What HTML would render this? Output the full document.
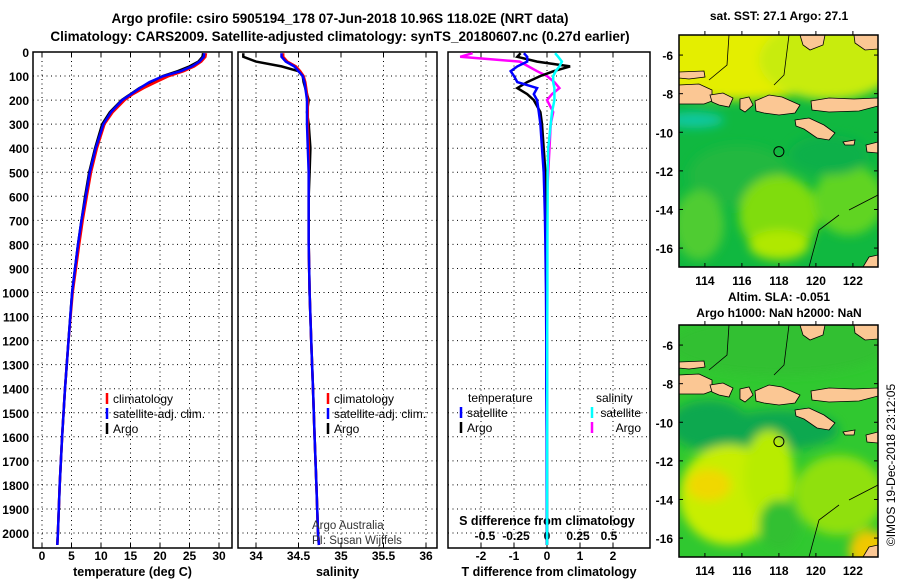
<!DOCTYPE html>
<html><head><meta charset="utf-8"><style>
body{margin:0;background:#fff}
svg{display:block;font-family:"Liberation Sans",sans-serif;font-weight:bold}
</style></head><body>
<svg id="c" width="900" height="580" viewBox="0 0 900 580">
<defs><filter id="bl" x="-10%" y="-10%" width="120%" height="120%"><feGaussianBlur stdDeviation="5"/></filter>
<clipPath id="mc"><rect x="0" y="0" width="199" height="232"/></clipPath></defs>
<text x="340" y="23" font-size="13.5" text-anchor="middle">Argo profile: csiro 5905194_178 07-Jun-2018 10.96S 118.02E (NRT data)</text>
<text x="340" y="41" font-size="13.5" text-anchor="middle">Climatology: CARS2009. Satellite-adjusted climatology: synTS_20180607.nc (0.27d earlier)</text>
<g id="panels"></g>
<g id="maps"></g>
<text transform="translate(895,465) rotate(-90)" font-size="12" font-weight="normal" text-anchor="middle">©IMOS 19-Dec-2018 23:12:05</text>
</svg>
<script>
const depths=[5,20,40,60,80,100,125,150,175,200,250,300,400,500,600,700,800,1000,1200,1400,1600,1800,2000,2050];
const tempClim=[27.8,27.7,27.0,25.8,24.0,21.5,19.3,17.2,15.4,14.0,12.0,10.6,9.3,8.3,7.6,6.9,6.3,5.2,4.5,3.9,3.4,3.0,2.7,2.6];
const tempSat=[27.5,27.4,26.7,25.4,23.5,20.6,18.2,16.6,15.1,13.6,11.7,10.4,9.1,8.1,7.4,6.7,6.1,5.1,4.5,3.9,3.4,3.0,2.7,2.6];
const tempArgo=[27.3,27.2,26.5,25.0,23.0,20.5,18.5,16.5,15.0,13.5,11.5,10.2,9.0,8.0,7.3,6.7,6.1,5.1,4.5,3.9,3.4,3.0,2.7,2.6];
const salClim=[34.32,34.32,34.37,34.47,34.52,34.56,34.58,34.59,34.6,34.61,34.61,34.61,34.62,34.62,34.62,34.62,34.62,34.63,34.65,34.67,34.69,34.71,34.73,34.74];
const salSat=[34.3,34.3,34.35,34.45,34.5,34.55,34.57,34.58,34.59,34.6,34.6,34.6,34.61,34.62,34.62,34.62,34.62,34.63,34.65,34.67,34.69,34.71,34.73,34.74];
const salArgo=[33.85,33.85,34.0,34.3,34.5,34.55,34.56,34.58,34.6,34.62,34.6,34.62,34.64,34.63,34.62,34.62,34.62,34.63,34.65,34.67,34.69,34.71,34.73,34.74];
const tDiffSat=[-0.7,-0.6,-0.6,-0.9,-1.1,-1.0,-0.9,-0.3,-0.4,-0.3,-0.25,-0.2,-0.15,-0.1,-0.08,-0.06,-0.05,-0.03,-0.02,-0.02,-0.01,-0.01,0,0];
const tDiffArgo=[-0.8,-0.9,-0.3,0.7,0.2,-0.2,-0.6,-0.9,-0.6,-0.4,-0.2,-0.15,-0.1,-0.05,-0.04,-0.03,-0.02,-0.01,0,0,0,0,0,0];
const sDiffSat=[0.065,0.09,0.12,0.1,0.07,0.05,0.05,0.06,0.06,0.06,0.04,0.03,0.01,0.005,0.005,0.004,0.003,0.003,0.002,0.002,0.002,0.001,0.001,0.001];
const sDiffArgo=[-0.6,-0.7,-0.22,-0.15,-0.08,0,0.06,0.1,0.04,0,0.05,0.03,0.02,0.01,0,0,0,0,0,0,0,0,0,0];
const depthTicks=[0,100,200,300,400,500,600,700,800,900,1000,1100,1200,1300,1400,1500,1600,1700,1800,1900,2000];
const tempTicks=[0,5,10,15,20,25,30];
const salTicks=[34,34.5,35,35.5,36];
const tdTicks=[-2,-1,0,1,2];
const sdTicks=[-0.5,-0.25,0,0.25,0.5];
const mapLats=[-6,-8,-10,-12,-14,-16];
const mapLons=[114,116,118,120,122];

const NS='http://www.w3.org/2000/svg';
function mk(p,t,a,txt){const e=document.createElementNS(NS,t);for(const k in a)e.setAttribute(k,a[k]);if(txt!==undefined)e.textContent=txt;p.appendChild(e);return e;}
const yD=d=>52+d*0.2405;
const Y0=52,Y1=548;
const P=document.getElementById('panels');
function panel(name,x0,x1,sx,ticks,fmt,label){
  const g=mk(P,'g',{});
  
  
  depthTicks.slice(1).forEach(d=>{mk(g,'line',{x1:x0,x2:x1,y1:yD(d),y2:yD(d),stroke:'#000','stroke-dasharray':'1 3.5'});});
  ticks.forEach(t=>{mk(g,'line',{x1:sx(t),x2:sx(t),y1:Y0,y2:Y1,stroke:'#000','stroke-dasharray':'1 3.5'});
    mk(g,'line',{x1:sx(t),x2:sx(t),y1:Y1,y2:Y1-5,stroke:'#000'});mk(g,'line',{x1:sx(t),x2:sx(t),y1:Y0,y2:Y0+5,stroke:'#000'});
    if(fmt){const tl=mk(g,'text',{x:sx(t),y:560,'font-size':12,'text-anchor':'middle'},fmt(t));
    
    }});
  mk(g,'rect',{x:x0,y:Y0,width:x1-x0,height:Y1-Y0,fill:'none',stroke:'#000','stroke-width':1.5});
  if(label){const l=mk(g,'text',{x:(x0+x1)/2,y:576,'font-size':12.5,'text-anchor':'middle'},label);
  
  }
  return g;
}
function line(g,vals,sx,col,name){
  let d='';vals.forEach((v,i)=>{d+=(i?'L':'M')+sx(v).toFixed(1)+' '+yD(depths[i]).toFixed(1);});
  const p=mk(g,'path',{d:d,fill:'none',stroke:col,'stroke-width':2.5});
  
  
}
function legend(g,x,y,items){items.forEach((it,i)=>{
  const e=mk(g,'g',{});
  
  
  mk(e,'line',{x1:it[2]||x,x2:it[2]||x,y1:y+i*15-10,y2:y+i*15+1,stroke:it[0],'stroke-width':2.5});
  mk(e,'text',{x:(it[2]||x)+6,y:y+i*15,'font-size':12,'font-weight':'normal'},it[1]);});}

depthTicks.forEach(d=>{const t=mk(P,'text',{x:29,y:yD(d)+5,'font-size':12,'text-anchor':'end'},d);

});

const sT=v=>42+v*5.9;
const gT=panel('temperature-panel',33,232,sT,tempTicks,t=>t,'temperature (deg C)');
line(gT,tempArgo,sT,'#000','temp-argo-line');line(gT,tempClim,sT,'#f00','temp-clim-line');line(gT,tempSat,sT,'#00f','temp-sat-line');
legend(gT,107,403,[['#f00','climatology'],['#00f','satellite-adj. clim.'],['#000','Argo']]);

const sS=v=>256+(v-34)*85;
const gS=panel('salinity-panel',238,437,sS,salTicks,t=>t,'salinity');
line(gS,salArgo,sS,'#000','sal-argo-line');line(gS,salClim,sS,'#f00','sal-clim-line');line(gS,salSat,sS,'#00f','sal-sat-line');
legend(gS,328,403,[['#f00','climatology'],['#00f','satellite-adj. clim.'],['#000','Argo']]);
mk(gS,'text',{x:312,y:529,'font-size':11.5,'font-weight':'normal',fill:'#333'},'Argo Australia');
mk(gS,'text',{x:312,y:544,'font-size':11.5,'font-weight':'normal',fill:'#333'},'PI: Susan Wijffels');

const sD=v=>547+v*33;const sSd=v=>547+v*124;
const gD=panel('difference-panel',448,650,sD,tdTicks,t=>t,'T difference from climatology');
sdTicks.forEach(t=>{const l=mk(gD,'text',{x:sSd(t),y:540,'font-size':12,'text-anchor':'middle'},t);

});
mk(gD,'text',{x:547,y:525,'font-size':12.5,'text-anchor':'middle'},'S difference from climatology');
line(gD,sDiffArgo,sSd,'#f0f','s-diff-argo-line');line(gD,tDiffArgo,sD,'#000','t-diff-argo-line');
line(gD,tDiffSat,sD,'#00f','t-diff-sat-line');line(gD,sDiffSat,sSd,'#0ff','s-diff-sat-line');
mk(gD,'text',{x:468,y:402,'font-size':12,'font-weight':'normal'},'temperature');
mk(gD,'text',{x:596,y:402,'font-size':12,'font-weight':'normal'},'salinity');
legend(gD,461,417,[['#00f','satellite'],['#000','Argo']]);
[['#0ff','satellite'],['#f0f','Argo']].forEach((it,i)=>{const y=417+i*15;
  const e=mk(gD,'g',{});
  
  
  mk(e,'line',{x1:592,x2:592,y1:y-10,y2:y+1,stroke:it[0],'stroke-width':2.5});
  mk(e,'text',{x:641,y:y,'font-size':12,'font-weight':'normal','text-anchor':'end'},it[1]);});

const M=document.getElementById('maps');
const land=[
 'M0,37 L25,36 L26,42 L10,44 L0,43Z',
 'M0,50 L20,49 L33,55 L33,66 L25,69 L0,69Z',
 'M31,60 L44,58 L54,63 L50,72 L40,70 L33,67Z',
 'M61,64 L70,62 L74,70 L66,77 L61,74Z',
 'M76,66 L90,60 L103,62 L112,66 L121,70 L116,78 L100,80 L85,78 L77,76Z',
 'M132,66 L150,63 L175,64 L199,63 L199,71 L180,76 L150,77 L133,75Z',
 'M116,85 L130,83 L145,90 L156,98 L150,105 L138,103 L125,94 L117,91Z',
 'M121,0 L146,0 L144,10 L131,15 L124,10Z',
 'M175,0 L199,0 L199,14 L186,15 L176,8Z',
 'M164,107 L176,105 L175,110 L166,110Z',
 'M187,110 L199,107 L199,118 L188,117Z',
 'M184,232 L190,222 L199,220 L199,232Z'];
function map(name,oy,blobs,title,tOff){
  const g=mk(M,'g',{transform:'translate(679,'+oy+')'});
  
  
  const c=mk(g,'g',{'clip-path':'url(#mc)'});
  mk(c,'rect',{x:0,y:0,width:199,height:232,fill:blobs[0]});
  const b=mk(c,'g',{filter:'url(#bl)'});
  blobs.slice(1).forEach(e=>mk(b,'ellipse',{cx:e[0],cy:e[1],rx:e[2],ry:e[3],fill:e[4]}));
  land.forEach(d=>mk(c,'path',{d:d,fill:'#fbc794',stroke:'#000','stroke-width':0.8}));
  mk(c,'path',{d:'M110,0 L105,40 L95,50 M50,0 L48,30 L30,45 M160,180 L140,195 L130,232 M199,160 L170,175',fill:'none',stroke:'#000','stroke-width':0.8});
  const mk1=mk(g,'circle',{cx:(118-112.6)*18.5,cy:(11-4.96)*19.3,r:5,fill:'none',stroke:'#000'});
  
  
  mk(g,'rect',{x:0,y:0,width:199,height:232,fill:'none',stroke:'#000','stroke-width':1.5});
  mapLats.forEach(l=>{const y=(-4.96-l)*19.3;mk(g,'line',{x1:0,x2:4,y1:y,y2:y,stroke:'#000'});mk(g,'line',{x1:195,x2:199,y1:y,y2:y,stroke:'#000'});
    mk(g,'text',{x:-6,y:y+5,'font-size':12,'text-anchor':'end'},l);});
  mapLons.forEach(l=>{const x=(l-112.6)*18.5;mk(g,'line',{x1:x,x2:x,y1:232,y2:228,stroke:'#000'});mk(g,'line',{x1:x,x2:x,y1:0,y2:-4,stroke:'#000'});
    mk(g,'text',{x:x,y:250,'font-size':12,'text-anchor':'middle'},l);});
  title.forEach((t,i)=>mk(g,'text',{x:100,y:-12-(title.length-1-i)*16+tOff,'font-size':12,'text-anchor':'middle'},t));
}
map('sst-map',35,['#10b840',[60,20,120,45,'#e4ee00'],[150,25,70,40,'#c8ec10'],[15,85,30,8,'#10c8a0'],[60,140,50,30,'#20b840'],[100,180,40,40,'#80dc10'],[100,210,30,15,'#b0e800'],[20,190,25,35,'#50cc30'],[170,165,35,35,'#60d420'],[150,120,40,20,'#10b048']],['sat. SST: 27.1  Argo: 27.1'],-3);
map('sla-map',325,['#30c830',[100,20,110,30,'#30c030'],[30,100,40,25,'#10a850'],[100,105,60,20,'#10a850'],[50,170,50,50,'#c8ee00'],[30,160,22,16,'#f0d800'],[90,150,25,45,'#b8ec00'],[100,200,20,25,'#30c030'],[160,170,45,40,'#90e010'],[190,225,20,20,'#f0c800']],['Altim. SLA: -0.051','Argo h1000: NaN h2000: NaN'],4);
</script>
</body></html>
